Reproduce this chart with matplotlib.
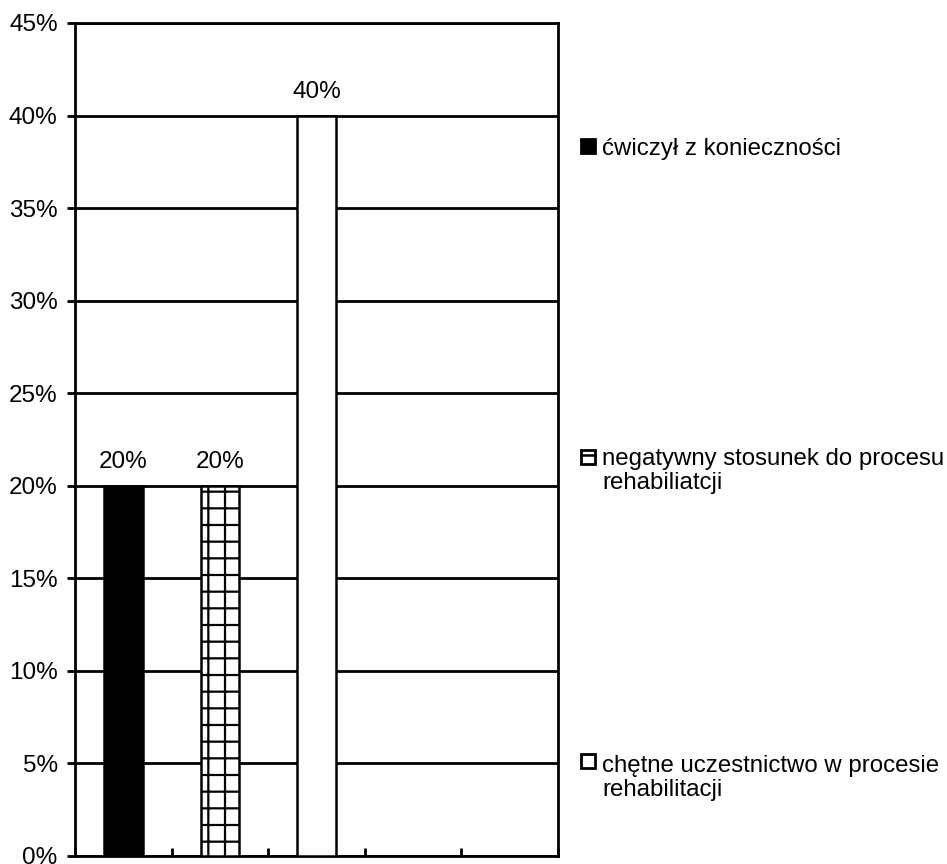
import matplotlib.pyplot as plt
from matplotlib.lines import Line2D
from matplotlib.patches import Rectangle
from matplotlib.ticker import FuncFormatter, MultipleLocator

plt.rcParams['font.family'] = ['Liberation Sans', 'DejaVu Sans']
plt.rcParams['hatch.linewidth'] = 1.6

labels = ['ćwiczył z konieczności',
          'negatywny stosunek do procesu\nrehabiliatcji',
          'chętne uczestnictwo w procesie\nrehabilitacji']
values = [20, 20, 40]
colors = ['black', 'white', 'white']
hatches = [None, '+', None]
n_slots = 5

W, H = 947, 864
fig = plt.figure(figsize=(W / 100, H / 100), dpi=100)
ax = fig.add_axes([75 / W, 8 / H, 483 / W, 833 / H])

ax.set_ylim(0, 45)
ax.set_xlim(0, n_slots)
ax.yaxis.set_major_locator(MultipleLocator(5))
ax.yaxis.set_major_formatter(FuncFormatter(lambda v, p: f'{v:.0f}%'))
ax.set_axisbelow(True)
ax.grid(axis='y', color='black', linewidth=2)

for i, (v, c, h) in enumerate(zip(values, colors, hatches)):
    ax.bar(i + 0.5, v, width=0.4, color=c, edgecolor='black', linewidth=1.8, hatch=h, zorder=3)
    ax.text(i + 0.5, v + 0.7, f'{v}%', ha='center', va='bottom', fontsize=17.5)

ax.set_xticks(range(n_slots + 1))
ax.set_xticklabels([])
ax.tick_params(axis='x', direction='in', length=6, width=2)
ax.tick_params(axis='y', direction='out', length=6, width=2, labelsize=17.5, pad=6.5)
for s in ax.spines.values():
    s.set_linewidth(2)

# legend drawn by hand, spread down the right side
mark_y = [146, 457, 761]
text_y = [147, 457, 764]
for lab, c, h, my, ty in zip(labels, colors, hatches, mark_y, text_y):
    fig.patches.append(Rectangle((581 / W, (H - my - 7) / H), 14 / W, 14 / H,
                                 transform=fig.transFigure, facecolor=c, edgecolor='black',
                                 linewidth=2))
    if h:
        fig.lines.append(Line2D([581 / W, 595 / W], [(H - my + 2.5) / H] * 2,
                                transform=fig.transFigure, color='black', linewidth=1.8))
    fig.text(602 / W, (H - ty + 9) / H, lab, ha='left', va='top', fontsize=17.3, linespacing=1.13)

fig.savefig('out.png', dpi=100)
